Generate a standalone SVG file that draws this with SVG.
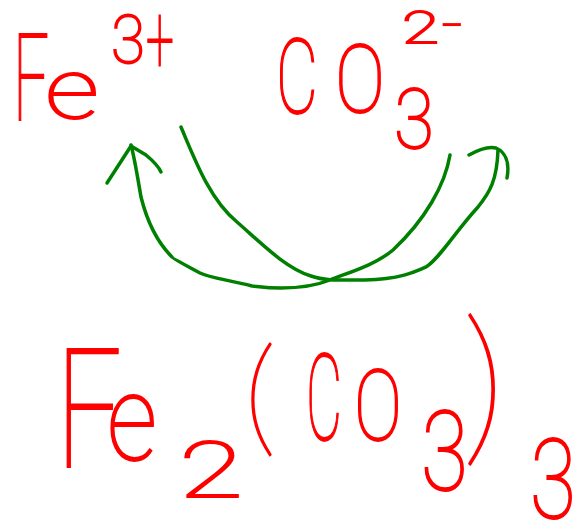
<svg xmlns="http://www.w3.org/2000/svg" width="578" height="520" viewBox="0 0 578 520">
<style>
.t{font-family:Roboto,"Liberation Sans",sans-serif;font-weight:100;fill:#ff0000;stroke:#ff0000;stroke-width:1.8}
.p{font-family:Lato,"DejaVu Sans",sans-serif;font-weight:100;fill:#ff0000;stroke:#ff0000;stroke-width:1.8}
.c{fill:none;stroke:#008000;stroke-width:3.5;stroke-linecap:round;stroke-linejoin:round}
</style>
<rect width="578" height="520" fill="#ffffff"/>
<g id="fe3plus">
<text class="t" x="13" y="120" font-size="120" textLength="36" lengthAdjust="spacingAndGlyphs">F</text>
<text class="t" x="45" y="118" font-size="84" textLength="54" lengthAdjust="spacingAndGlyphs">e</text>
<text class="t" x="111" y="63" font-size="67" textLength="34" lengthAdjust="spacingAndGlyphs">3</text>
<text class="t" x="146" y="73" font-size="96" textLength="28" lengthAdjust="spacingAndGlyphs">+</text>
</g>
<g id="co3">
<text class="t" x="276" y="113" font-size="103" textLength="42" lengthAdjust="spacingAndGlyphs">C</text>
<text class="t" x="335" y="112" font-size="95" textLength="50" lengthAdjust="spacingAndGlyphs">O</text>
<text class="t" x="394" y="148" font-size="84" textLength="40" lengthAdjust="spacingAndGlyphs">3</text>
<text class="t" x="402" y="43" font-size="44" textLength="37" lengthAdjust="spacingAndGlyphs">2</text>
<text class="t" x="442" y="39" font-size="44" textLength="20" lengthAdjust="spacingAndGlyphs">-</text>
</g>
<g id="fe2co33">
<text class="t" x="56" y="467" font-size="165" textLength="66" lengthAdjust="spacingAndGlyphs">F</text>
<text class="t" x="107" y="460" font-size="120" textLength="50" lengthAdjust="spacingAndGlyphs">e</text>
<text class="t" x="179" y="497" font-size="77" textLength="64" lengthAdjust="spacingAndGlyphs">2</text>
<text class="p" x="244" y="440" font-size="128">(</text>
<text class="t" x="306" y="440" font-size="120" textLength="36" lengthAdjust="spacingAndGlyphs">C</text>
<text class="t" x="354" y="440" font-size="99" textLength="48" lengthAdjust="spacingAndGlyphs">O</text>
<text class="t" x="421" y="490" font-size="112" textLength="47" lengthAdjust="spacingAndGlyphs">3</text>
<text class="p" x="462" y="444" font-size="172">)</text>
<text class="t" x="530" y="518" font-size="112" textLength="46" lengthAdjust="spacingAndGlyphs">3</text>
</g>
<g id="connectors">
<path class="c" d="M181,127 C195,160 210,200 237,222 C260,242 285,268 311,276 C325,281 340,280 365,280 C400,279 415,272 426,267 C440,258 455,232 478,207 C490,192 497,180 498,150"/>
<path class="c" d="M469,155 C478,150 488,146 496,148 C505,152 510,162 507,178"/>
<path class="c" d="M450,155 C445,185 425,220 393,250 C375,265 350,272 330,280 C315,286 300,288 281,288 C265,288 255,286 252,286 C230,280 210,278 200,273 C185,265 172,258 172,257 C160,245 148,225 141,197 C138,180 135,160 131,145"/>
<path class="c" d="M107,183 L131,146 L146,155 C152,160 158,165 161,172"/>
</g>
</svg>
